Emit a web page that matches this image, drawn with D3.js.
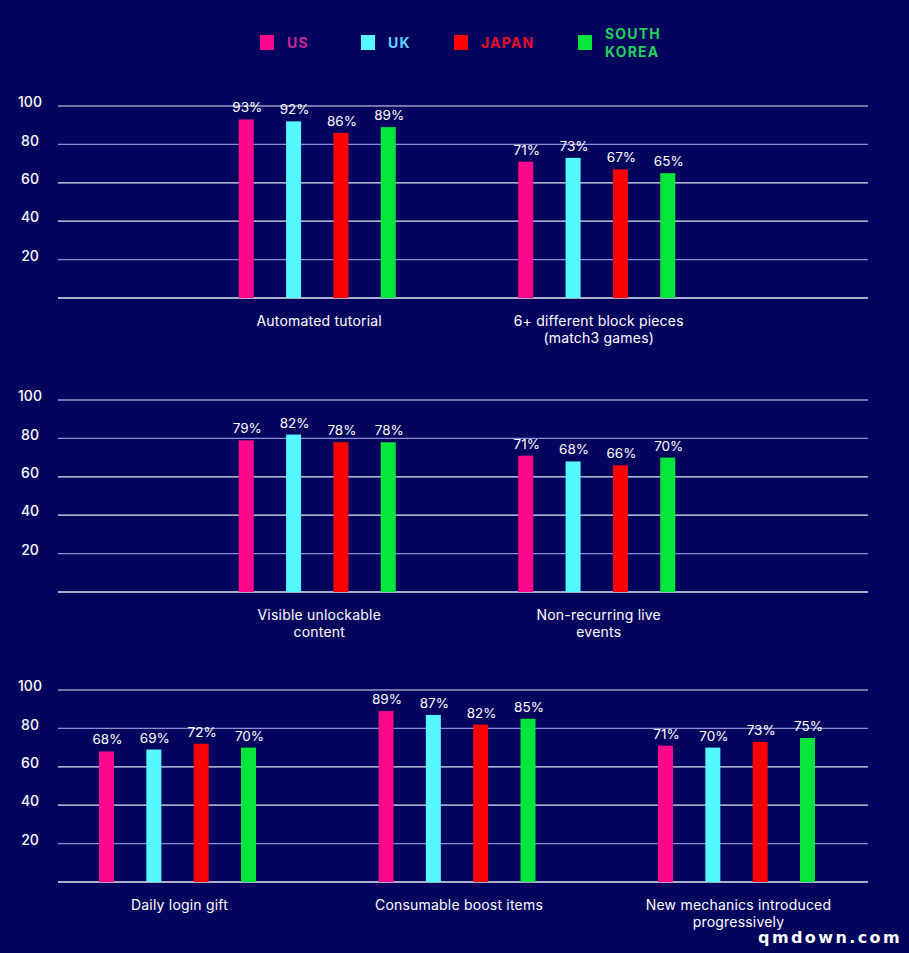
<!DOCTYPE html>
<html>
<head>
<meta charset="utf-8">
<script src="https://cdn.jsdelivr.net/npm/d3@7"></script>
<style>
  html, body { margin: 0; padding: 0; background: #03045e; }
  svg { display: block; }
  text { font-family: Inter, "Noto Sans", sans-serif; }
</style>
</head>
<body>
<svg id="chart" width="909" height="953"></svg>
<script>
// ---- data ----
const seriesNames = ["US", "UK", "JAPAN", "SOUTH KOREA"];
const seriesColors = ["#ff088c", "#55f8ff", "#ff0000", "#05e63c"];
const legendTextColors = ["#c9279a", "#5fd2ff", "#e3102c", "#1fd15a"];
const categories = [
  "Automated tutorial",
  "6+ different block pieces\n(match3 games)",
  "Visible unlockable\ncontent",
  "Non-recurring live\nevents",
  "Daily login gift",
  "Consumable boost items",
  "New mechanics introduced\nprogressively"
];
const usValues         = [93, 71, 79, 71, 68, 89, 71];
const ukValues         = [92, 73, 82, 68, 69, 87, 70];
const japanValues      = [86, 67, 78, 66, 72, 82, 73];
const southKoreaValues = [89, 65, 78, 70, 70, 85, 75];
const panelCategoryCounts = [2, 2, 3];
const yTickValues = [20, 40, 60, 80, 100];
const gridValues = [0, 20, 40, 60, 80, 100];

const allValues = [usValues, ukValues, japanValues, southKoreaValues];

// ---- layout ----
const svg = d3.select("#chart");
svg.append("rect").attr("width", 909).attr("height", 953).attr("fill", "#03045e");

const panelTops = [106, 400, 690];
const panelHeight = 192;
const gridX0 = 58, gridX1 = 868;
const groupStep = 279.5, centerX = 457;

let catIndex = 0;
panelCategoryCounts.forEach((n, p) => {
  const cats = d3.range(catIndex, catIndex + n);
  catIndex += n;
  const top = panelTops[p];
  const y = d3.scaleLinear().domain([0, 100]).range([top + panelHeight, top]);
  const x = d3.scaleBand().domain(cats)
    .range([centerX - n * groupStep / 2, centerX + n * groupStep / 2]).padding(0);
  const g = svg.append("g");

  // gridlines
  g.selectAll("line.grid").data(gridValues).join("line")
    .attr("x1", gridX0).attr("x2", gridX1)
    .attr("y1", d => y(d)).attr("y2", d => y(d))
    .attr("stroke", d => (d === 20 || d === 80) ? "#8c8ed6" : "#e6e6f2")
    .attr("stroke-width", d => d === 0 ? 1.6 : 1.2);

  // y tick labels
  const axis = d3.axisLeft(y).tickValues(yTickValues).tickSize(0).tickPadding(0);
  const ag = g.append("g").attr("transform", "translate(30,0)").call(axis);
  ag.select(".domain").remove();
  ag.selectAll("text")
    .attr("text-anchor", "middle")
    .attr("dy", "0.05em")
    .attr("fill", "#ffffff")
    .style("font-size", "14px")
    .style("font-weight", "500")
    .style("font-family", "Inter, sans-serif");

  cats.forEach(ci => {
    const cx = x(ci) + x.bandwidth() / 2;
    const inner = d3.scalePoint().domain(seriesNames).range([cx - 71, cx + 71]);
    const barW = 15;
    const vals = seriesNames.map((s, si) => ({ s, si, v: allValues[si][ci] }));

    g.selectAll(null).data(vals).join("rect")
      .attr("x", d => inner(d.s) - barW / 2)
      .attr("y", d => y(d.v))
      .attr("width", barW)
      .attr("height", d => y(0) - y(d.v))
      .attr("fill", d => seriesColors[d.si]);

    g.selectAll(null).data(vals).join("text")
      .attr("x", d => inner(d.s) + 1)
      .attr("y", d => y(d.v) - 7)
      .attr("text-anchor", "middle")
      .attr("fill", "#ffffff")
      .style("font-size", "13.5px")
      .text(d => d.v + "%");

    const lines = categories[ci].split("\n");
    g.append("text")
      .attr("x", cx + 2)
      .attr("y", y(0) + 28)
      .attr("text-anchor", "middle")
      .attr("fill", "#ffffff")
      .style("font-size", "14px")
      .style("letter-spacing", "0.2px")
      .selectAll("tspan").data(lines).join("tspan")
      .attr("x", cx + 2)
      .attr("dy", (d, i) => i === 0 ? 0 : 16.5)
      .text(d => d);
  });
});

// ---- legend ----
const legendX = [260, 361, 454, 578];
const lg = svg.append("g");
seriesNames.forEach((s, i) => {
  lg.append("rect")
    .attr("x", legendX[i]).attr("y", 35)
    .attr("width", 14).attr("height", 15)
    .attr("fill", seriesColors[i]);
  const words = s === "SOUTH KOREA" ? ["SOUTH", "KOREA"] : [s];
  const t = lg.append("text")
    .attr("fill", legendTextColors[i])
    .style("font-size", "14px")
    .style("font-weight", "700")
    .style("letter-spacing", "1.2px");
  words.forEach((w, wi) => {
    t.append("tspan")
      .attr("x", legendX[i] + 27)
      .attr("y", words.length === 1 ? 48 : 39 + wi * 18)
      .text(w);
  });
});

// watermark
svg.append("text")
  .attr("x", 902).attr("y", 943)
  .attr("text-anchor", "end")
  .attr("fill", "#ffffff")
  .style("font-family", "'DejaVu Sans', sans-serif")
  .style("font-size", "16px")
  .style("font-weight", "600")
  .style("letter-spacing", "2.4px")
  .text("qmdown.com");
</script>
</body>
</html>
